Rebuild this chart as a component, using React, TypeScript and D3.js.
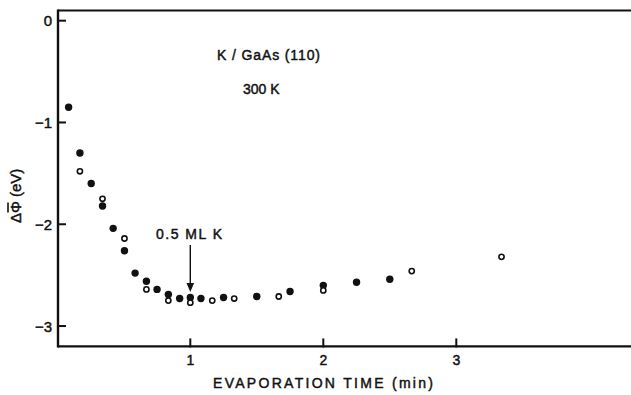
import React from "react";
import * as d3 from "d3";

const filledX = [0.085, 0.17, 0.255, 0.34, 0.42, 0.505, 0.585, 0.67, 0.75, 0.835, 0.92, 1.0, 1.08, 1.25, 1.5, 1.75, 2.0, 2.25, 2.5];
const filledY = [-0.85, -1.3, -1.6, -1.82, -2.04, -2.26, -2.48, -2.56, -2.64, -2.69, -2.73, -2.72, -2.73, -2.72, -2.71, -2.66, -2.6, -2.57, -2.54];
const openX = [0.17, 0.34, 0.505, 0.67, 0.835, 1.0, 1.165, 1.33, 1.665, 2.0, 2.665, 3.34];
const openY = [-1.48, -1.75, -2.14, -2.64, -2.75, -2.77, -2.75, -2.73, -2.71, -2.65, -2.46, -2.32];
const xTicks = [1, 2, 3];
const yTicks = [0, -1, -2, -3];
const yTickLabels = ["0", "\u22121", "\u22122", "\u22123"];

const FONT = "'Liberation Sans', Arial, sans-serif";
const INK = "#111";
const txt = { fill: INK, stroke: INK, strokeWidth: 0.45 };

export default function App() {
  const x = d3.scaleLinear().domain([0, 4.3]).range([57.3, 57.3 + 4.3 * 133]);
  const y = d3.scaleLinear().domain([0.1, -3.2]).range([10.5, 346.4]);
  const left = 58;
  const right = 640;
  const top = y(0.1);
  const bottom = y(-3.2);
  const arrowX = x(1);
  return (
    <svg
      width={631}
      height={395}
      style={{ position: "absolute", left: 0, top: 0, background: "#fff" }}
      fontFamily={FONT}
    >
      <rect x={0} y={0} width={631} height={395} fill="#fff" />
      {/* frame */}
      <line x1={left} x2={right} y1={top} y2={top} stroke={INK} strokeWidth={2.2} />
      <line x1={left} x2={right} y1={bottom} y2={bottom} stroke={INK} strokeWidth={2.2} />
      <line x1={left} x2={left} y1={top - 1} y2={bottom + 1} stroke={INK} strokeWidth={2.4} />
      {/* y ticks */}
      {yTicks.map((t, i) => (
        <g key={"y" + t}>
          <line x1={left - 1} x2={left + 8} y1={y(t)} y2={y(t)} stroke={INK} strokeWidth={2} />
          <text x={52} y={y(t) + 5.5} textAnchor="end" fontSize={15} {...txt}>
            {yTickLabels[i]}
          </text>
        </g>
      ))}
      {/* x ticks */}
      {xTicks.map((t) => (
        <g key={"x" + t}>
          <line x1={x(t)} x2={x(t)} y1={bottom - 8} y2={bottom + 1} stroke={INK} strokeWidth={2} />
          <text x={x(t)} y={365} textAnchor="middle" fontSize={14} {...txt}>
            {t}
          </text>
        </g>
      ))}
      <text x={213} y={388} fontSize={14} {...txt} textLength={220} lengthAdjust="spacing">
        EVAPORATION TIME (min)
      </text>
      <g transform="translate(21,223) rotate(-90)">
        <text x={0} y={0} fontSize={15} {...txt}>
          <tspan>{"\u0394"}</tspan>
          <tspan>{"\u03A6"}</tspan>
          <tspan dx={4}>(eV)</tspan>
        </text>
        <line x1={10.5} x2={20.5} y1={-13} y2={-13} stroke={INK} strokeWidth={1.6} />
      </g>
      {/* annotations */}
      <text x={217} y={60} fontSize={14} {...txt} textLength={103} lengthAdjust="spacing">
        K / GaAs (110)
      </text>
      <text x={243} y={94} fontSize={14} {...txt}>
        300 K
      </text>
      <text x={156} y={239} fontSize={14} {...txt} textLength={66} lengthAdjust="spacing">
        0.5 ML K
      </text>
      <line x1={arrowX} x2={arrowX} y1={245} y2={285} stroke={INK} strokeWidth={1.4} />
      <path
        d={`M${arrowX - 3.8},283 L${arrowX + 3.8},283 L${arrowX},292 Z`}
        fill={INK}
      />
      {/* data */}
      {filledX.map((v, i) => (
        <circle key={"f" + i} cx={x(v)} cy={y(filledY[i])} r={3.7} fill={INK} />
      ))}
      {openX.map((v, i) => (
        <circle
          key={"o" + i}
          cx={x(v)}
          cy={y(openY[i])}
          r={2.6}
          fill="#fff"
          stroke={INK}
          strokeWidth={1.6}
        />
      ))}
    </svg>
  );
}
